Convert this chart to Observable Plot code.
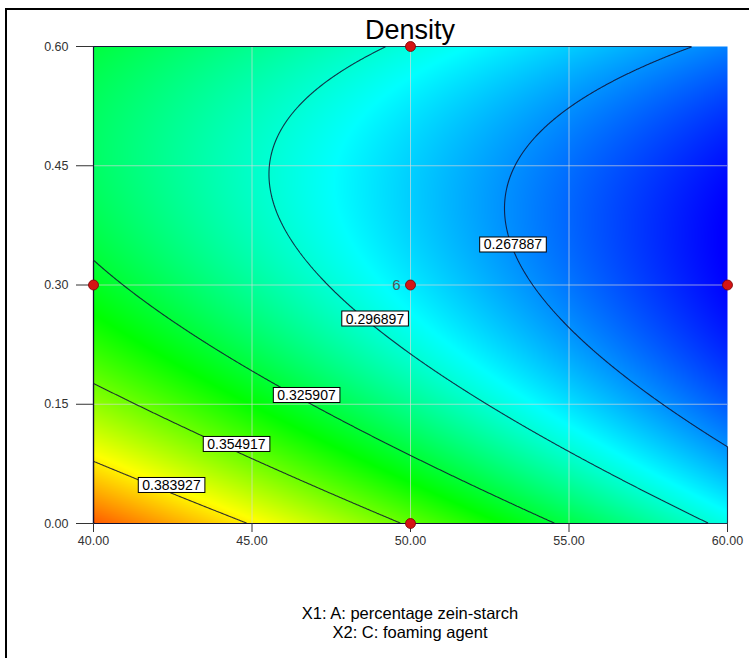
<!DOCTYPE html>
<html>
<head>
<meta charset="utf-8">
<script src="https://cdn.jsdelivr.net/npm/d3@7"></script>
<script src="https://cdn.jsdelivr.net/npm/@observablehq/plot@0.6"></script>
<style>
  html, body { margin: 0; padding: 0; background: #fff; }
  #chart { position: relative; width: 749px; height: 658px; overflow: hidden; background: #fff;
           font-family: "Liberation Sans", Arial, sans-serif; }
  .frame-top { position: absolute; left: 5px; top: 8px; width: 744px; height: 2px; background: #000; }
  .frame-left { position: absolute; left: 5px; top: 8px; width: 2px; height: 650px; background: #000; }
  #title { position: absolute; left: 310px; width: 200px; top: 17px; text-align: center;
           font-size: 27px; line-height: 27px; color: #000; }
  #plot { position: absolute; left: 0; top: 0; }
  #xlab { position: absolute; left: 260px; width: 300px; top: 604px; text-align: center;
          font-size: 16.5px; line-height: 18.5px; color: #000; }
</style>
</head>
<body>
<div id="chart">
  <div class="frame-top"></div>
  <div class="frame-left"></div>
  <div id="title">Density</div>
  <div id="plot"></div>
  <div id="xlab">X1: A: percentage zein-starch<br>X2: C: foaming agent</div>
</div>
<script>
// Factor ranges (actual units) and axis ticks
const xDomain = [40, 60];          // A: percentage zein-starch
const yDomain = [0, 0.6];          // C: foaming agent
const xTicks = [40, 45, 50, 55, 60];
const yTicks = [0, 0.15, 0.30, 0.45, 0.60];

// Quadratic response-surface model for Density, in coded factors (-1..+1)
const modelTerms = ["Intercept", "A", "C", "AC", "A^2", "C^2"];
const modelCoefs = [0.2852, -0.0449, -0.0293, 0.0149, 0.0, 0.0387];

// Contour levels and where their labels sit
const contourLevels = [0.267887, 0.296897, 0.325907, 0.354917, 0.383927];
const labelX = [53.23, 48.88, 46.72, 44.51, 42.46];
const labelY = [0.3503, 0.2572, 0.161, 0.0994, 0.0478];

// Design points and the replicate count at the centre point
const designX = [40, 50, 50, 50, 60];
const designY = [0.30, 0.00, 0.30, 0.60, 0.30];
const centerX = [50];
const centerY = [0.30];
const centerReps = ["6"];

// Colour ramp stops for the response
const colorStops = [0.240, 0.289, 0.336, 0.381, 0.430];
const colorRange = ["#0000ff", "#00ffff", "#00ff00", "#ffff00", "#ff0000"];

function density(x, y) {
  const a = (x - 50) / 10;
  const c = (y - 0.3) / 0.3;
  const [b0, bA, bC, bAC, bAA, bCC] = modelCoefs;
  return b0 + bA * a + bC * c + bAC * a * c + bAA * a * a + bCC * c * c;
}

const labels = contourLevels.map((v, i) => ({x: labelX[i], y: labelY[i], text: String(v)}));
const points = designX.map((x, i) => ({x, y: designY[i]}));
const centre = centerX.map((x, i) => ({x, y: centerY[i], text: centerReps[i]}));

const fmt = d3.format(".2f");
const extent = {x1: xDomain[0], x2: xDomain[1], y1: yDomain[0], y2: yDomain[1]};

const chart = Plot.plot({
  width: 749,
  height: 560,
  marginLeft: 93,
  marginRight: 22,
  marginTop: 46,
  marginBottom: 37,
  style: {background: "transparent", fontFamily: "Liberation Sans, Arial, sans-serif", overflow: "visible"},
  x: {domain: xDomain},
  y: {domain: yDomain},
  color: {type: "linear", domain: colorStops, range: colorRange, interpolate: "rgb", clamp: true},
  marks: [
    Plot.raster({...extent, fill: density, pixelSize: 1, imageRendering: "auto"}),
    Plot.gridX(xTicks.slice(1, -1), {stroke: "#d8d8d8", strokeOpacity: 0.65, strokeWidth: 1}),
    Plot.gridY(yTicks.slice(1, -1), {stroke: "#d8d8d8", strokeOpacity: 0.65, strokeWidth: 1}),
    Plot.contour({...extent, value: density, thresholds: contourLevels, pixelSize: 1,
                  fill: "none", stroke: "#101030", strokeOpacity: 0.85, strokeWidth: 1.1}),
    Plot.axisX(xTicks, {tickSize: 9, tickPadding: 4, tickFormat: fmt, fontSize: 12.5,
                        stroke: "#333", fill: "#333", label: null}),
    Plot.axisY(yTicks, {tickSize: 17, tickPadding: 8, tickFormat: fmt, fontSize: 12.5,
                        stroke: "#333", fill: "#333", label: null}),
    Plot.text(labels, {x: "x", y: "y", text: "text", fontSize: 14, fill: "#000"}),
    Plot.dot(points, {x: "x", y: "y", r: 5, fill: "#d41414", stroke: "#780000", strokeWidth: 0.8, clip: false}),
    Plot.text(centre, {x: "x", y: "y", text: "text", dx: -10, textAnchor: "end", fontSize: 15, fill: "#555"})
  ]
});

document.getElementById("plot").appendChild(chart);

// White boxes with a black outline behind each contour label
const labelSet = new Set(labels.map(d => d.text));
d3.select(chart).selectAll("text").each(function() {
  if (!labelSet.has(this.textContent)) return;
  const b = this.getBBox();
  const parent = this.parentNode;
  const rect = document.createElementNS("http://www.w3.org/2000/svg", "rect");
  rect.setAttribute("x", b.x - 4);
  rect.setAttribute("y", b.y + b.height / 2 - 7.5);
  rect.setAttribute("width", b.width + 8);
  rect.setAttribute("height", 15);
  rect.setAttribute("fill", "#fff");
  rect.setAttribute("stroke", "#000");
  rect.setAttribute("stroke-width", 1);
  const t = this.getAttribute("transform");
  if (t) rect.setAttribute("transform", t);
  parent.insertBefore(rect, this);
});
</script>
</body>
</html>
